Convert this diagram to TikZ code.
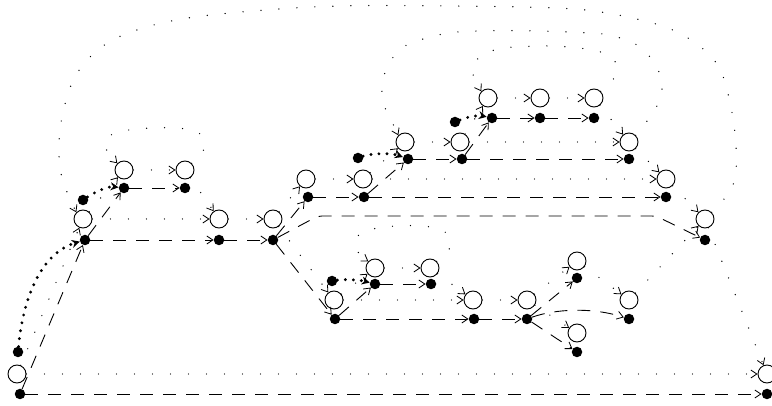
\documentclass[tikz,border=0pt]{standalone}
\usetikzlibrary{arrows.meta}
\begin{document}
\begin{tikzpicture}[x=1pt,y=-1pt,
  ring/.style={circle,draw,line width=0.9pt,minimum size=18pt,inner sep=0pt,fill=white},
  pt/.style={circle,fill=black,minimum size=10.5pt,inner sep=0pt},
  barb/.style={-{Straight Barb[length=6pt,width=8pt,line width=0.8pt]}},
  ctl/.style={barb,line width=0.9pt,dash pattern=on 13pt off 10pt},
  dat/.style={barb,line width=1.4pt,line cap=round,dash pattern=on 0pt off 18pt},
  heavy/.style={line width=3.2pt,line cap=round,dash pattern=on 0pt off 8pt,
    -{Stealth[length=8pt,width=8pt]}},
]
\clip (0,0) rectangle (772,406);

% base level
\node[ring] (A0) at (17,374) {};
\node[pt]   (a0) at (20,394) {};
\node[pt]   (x0) at (18,352) {};
\node[ring] (B0) at (767,374) {};
\node[pt]   (b0) at (767,394) {};

% first level
\node[ring] (A1) at (83,219) {};
\node[pt]   (a1) at (85,240) {};
\node[ring] (C1) at (219,219) {};
\node[pt]   (c1) at (219,240) {};
\node[ring] (D1) at (273,219) {};
\node[pt]   (d1) at (273,240) {};

% small upper-left block
\node[ring] (A2) at (124,170) {};
\node[pt]   (a2) at (124,188) {};
\node[ring] (E2) at (185,170) {};
\node[pt]   (e2) at (185,188) {};
\node[pt]   (x2) at (83,200) {};

% upper branch
\node[ring] (M) at (306,179) {};
\node[pt]   (m) at (308,197) {};
\node[ring] (N) at (363,179) {};
\node[pt]   (n) at (364,197) {};
\node[ring] (G) at (666,179) {};
\node[pt]   (g) at (666,197) {};
\node[ring] (H) at (405,142) {};
\node[pt]   (h) at (408,159) {};
\node[pt]   (xh) at (358,158) {};
\node[ring] (J) at (460,142) {};
\node[pt]   (j) at (462,159) {};
\node[ring] (I) at (629,142) {};
\node[pt]   (i) at (629,159) {};
\node[ring] (K) at (488,98) {};
\node[pt]   (k) at (492,118) {};
\node[pt]   (xk) at (455,122) {};
\node[ring] (L) at (540,98) {};
\node[pt]   (l) at (540,118) {};
\node[ring] (O) at (594,98) {};
\node[pt]   (o) at (594,118) {};
\node[ring] (F) at (705,219) {};
\node[pt]   (f) at (705,240) {};

% lower branch
\node[ring] (P) at (334,300) {};
\node[pt]   (p) at (335,319) {};
\node[ring] (Q) at (375,268) {};
\node[pt]   (q) at (375,284) {};
\node[pt]   (xq) at (332,281) {};
\node[ring] (R) at (430,268) {};
\node[pt]   (r) at (431,284) {};
\node[ring] (S) at (473,300) {};
\node[pt]   (s) at (474,319) {};
\node[ring] (T) at (527,300) {};
\node[pt]   (t) at (527,319) {};
\node[ring] (U) at (577,261) {};
\node[pt]   (u) at (577,278) {};
\node[ring] (V) at (629,300) {};
\node[pt]   (v) at (629,319) {};
\node[ring] (W) at (577,333) {};
\node[pt]   (w) at (577,352) {};

% dashed control edges between dots
\draw[ctl] (a0) -- (b0);
\draw[ctl] (a0) -- (a1);
\draw[ctl] (a1) -- (c1);
\draw[ctl] (c1) -- (d1);
\draw[ctl] (a1) -- (a2);
\draw[ctl] (a2) -- (e2);
\draw[ctl] (d1) -- (m);
\draw[ctl] (m) -- (n);
\draw[ctl] (n) -- (g);
\draw[ctl] (n) -- (h);
\draw[ctl] (h) -- (j);
\draw[ctl] (j) -- (i);
\draw[ctl] (j) -- (k);
\draw[ctl] (k) -- (l);
\draw[ctl] (l) -- (o);
\draw[ctl,rounded corners=4pt] (d1) -- (318,216) -- (656,216) -- (f);
\draw[ctl] (d1) -- (p);
\draw[ctl] (p) -- (s);
\draw[ctl] (s) -- (t);
\draw[ctl] (p) -- (q);
\draw[ctl] (q) -- (r);
\draw[ctl] (t) -- (u);
\draw[ctl] (t) .. controls (555,309) and (592,307) .. (v);
\draw[ctl] (t) -- (w);

% dotted data edges between rings
\draw[dat] (A0) -- (B0);
\draw[dat] (A0) -- (A1);
\draw[dat] (A1) -- (C1);
\draw[dat] (C1) -- (D1);
\draw[dat] (A1) -- (A2);
\draw[dat] (A2) -- (E2);
\draw[dat] (E2) -- (C1);
\draw[dat] (D1) -- (M);
\draw[dat] (M) -- (N);
\draw[dat] (N) -- (G);
\draw[dat] (N) -- (H);
\draw[dat] (H) -- (J);
\draw[dat] (J) -- (I);
\draw[dat] (J) -- (K);
\draw[dat] (K) -- (L);
\draw[dat] (L) -- (O);
\draw[dat] (O) -- (I);
\draw[dat] (I) -- (G);
\draw[dat] (G) -- (F);
\draw[dat] (F) -- (B0);
\draw[dat] (D1) -- (P);
\draw[dat] (P) -- (Q);
\draw[dat] (Q) -- (R);
\draw[dat] (R) -- (S);
\draw[dat] (P) -- (S);
\draw[dat] (S) -- (T);
\draw[dat] (T) -- (U);
\draw[dat] (T) -- (W);
\draw[dat] (U) -- (V);
\draw[dat] (V) -- (F);

% dotted feedback loops
\draw[dat] plot[smooth,tension=0.6] coordinates {(F.north east) (733,185) (736,145)
  (729,98) (717,64) (691,40) (659,25) (607,13) (555,8) (450,6) (340,6) (253,11)
  (182,19) (131,32) (99,49) (76,75) (64,108) (59,143) (62,178) (A1.north west)};
\draw[dat] plot[smooth,tension=0.6] coordinates {(I.north east) (647,121) (658,104)
  (662,89) (659,72) (650,57) (637,45) (620,38) (603,34) (540,31) (478,31) (443,34)
  (409,44) (395,55) (386,70) (382,87) (384,105) (392,122) (H.north west)};
\draw[dat] plot[smooth,tension=0.6] coordinates {(O.north east) (613,80) (616,63)
  (603,53) (587,49) (552,46) (515,47) (498,49) (481,56) (472,70) (K.north west)};
\draw[dat] plot[smooth,tension=0.6] coordinates {(E2.north east) (203,152) (202,136)
  (186,129) (151,128) (115,133) (105,146) (A2.north west)};
\draw[dat] plot[smooth,tension=0.6] coordinates {(R.north east) (449,250) (447,234)
  (431,227) (395,226) (361,233) (357,250) (Q.north west)};

% heavy dotted hand-over edges
\draw[heavy] (x0) .. controls (24,290) and (45,252) .. (a1);
\draw[heavy] (x2) .. controls (95,192) and (108,186) .. (a2);
\draw[heavy] (xh) .. controls (372,153) and (392,153) .. (h);
\draw[heavy] (xk) .. controls (467,117) and (478,115) .. (k);
\draw[heavy] (xq) .. controls (345,279) and (360,280) .. (q);
\end{tikzpicture}
\end{document}
